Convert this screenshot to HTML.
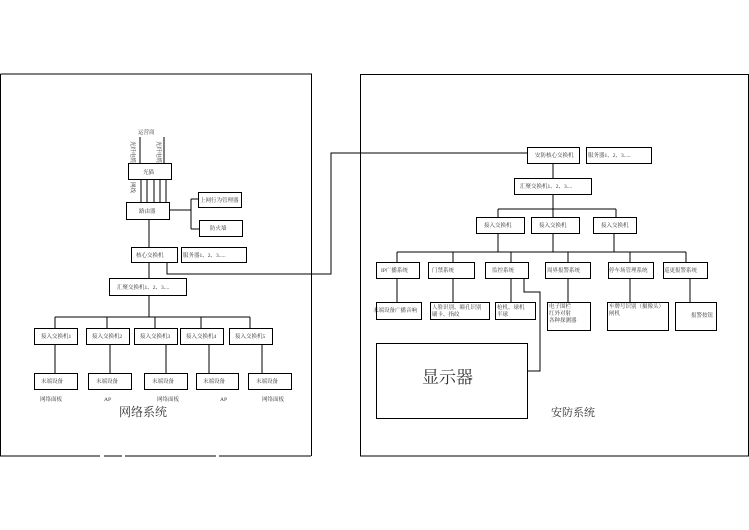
<!DOCTYPE html>
<html><head><meta charset="utf-8"><style>
html,body{margin:0;padding:0;background:#fff;}
svg{display:block;}
text{font-family:"Liberation Serif","Noto Serif CJK SC",serif;fill:#333;}
</style></head><body>
<svg width="749" height="530" viewBox="0 0 749 530" xmlns="http://www.w3.org/2000/svg">
<g fill="none" stroke="#000" stroke-width="1">
<!-- outer frames -->
<path d="M0.5 74 H311.5 V456"/>
<path d="M0.5 74 V456 H100 M104 456 H122 M125 456 H216 M219 456 H311"/>
<rect x="360.5" y="74.5" width="388" height="381.5"/>
<!-- left tree -->
<path d="M140 137 V163 M164 137 V163"/>
<rect x="128.5" y="163.5" width="43" height="16"/>
<path d="M141 179 V203 M147 179 V203 M154 179 V203 M160 179 V203 M166 179 V203"/>
<rect x="126.5" y="202.5" width="43" height="17"/>
<path d="M169 210 H191 M191 199 V229 M191 199 H198 M191 229 H199"/>
<rect x="198.5" y="192.5" width="43" height="15"/>
<rect x="199.5" y="220.5" width="43" height="16"/>
<path d="M149 219 V247"/>
<rect x="131.5" y="247.5" width="46" height="15"/>
<rect x="181.5" y="247.5" width="65" height="15"/>
<path d="M167 262 V274 H331 V153 H527"/>
<path d="M149 262 V278"/>
<rect x="109.5" y="278.5" width="77" height="17"/>
<path d="M149 295 V317 M55 317 H250 M55 317 V328 M107 317 V328 M155 317 V328 M201 317 V328 M250 317 V328"/>
<rect x="34.5" y="328.5" width="43" height="16"/>
<rect x="86.5" y="328.5" width="43" height="16"/>
<rect x="134.5" y="328.5" width="43" height="16"/>
<rect x="180.5" y="328.5" width="43" height="16"/>
<rect x="229.5" y="328.5" width="43" height="16"/>
<path d="M55 344 V373 M110 344 V373 M166 344 V373 M209 344 V373 M262 344 V373"/>
<rect x="34.5" y="373.5" width="43" height="16"/>
<rect x="88.5" y="373.5" width="43" height="16"/>
<rect x="144.5" y="373.5" width="43" height="16"/>
<rect x="196.5" y="373.5" width="42" height="16"/>
<rect x="248.5" y="373.5" width="43" height="16"/>
<!-- right tree -->
<rect x="527.5" y="147.5" width="52" height="16"/>
<rect x="586.5" y="147.5" width="65" height="16"/>
<path d="M553 163 V178"/>
<rect x="514.5" y="178.5" width="77" height="16"/>
<path d="M553 194 V209 M498 209 H616 M498 209 V217 M553 209 V217 M616 209 V217"/>
<rect x="476.5" y="217.5" width="48" height="16"/>
<rect x="531.5" y="217.5" width="48" height="16"/>
<rect x="593.5" y="217.5" width="43" height="16"/>
<path d="M498 233 V252 M553 233 V252 M614 233 V252 M397 252 H686 M397 252 V262 M453 252 V262 M511 252 V262 M568 252 V262 M630 252 V262 M686 252 V262"/>
<rect x="376.5" y="262.5" width="43" height="16"/>
<rect x="428.5" y="262.5" width="46" height="16"/>
<rect x="485.5" y="262.5" width="43" height="16"/>
<rect x="545.5" y="262.5" width="45" height="16"/>
<rect x="608.5" y="262.5" width="45" height="16"/>
<rect x="663.5" y="262.5" width="44" height="16"/>
<path d="M397 278 V302 M453 278 V302 M511 278 V302 M568 278 V302 M630 278 V302 M690 278 V302"/>
<path d="M524 278 V292 H540 V371 H527"/>
<rect x="376.5" y="302.5" width="45" height="17"/>
<rect x="430.5" y="302.5" width="59" height="17"/>
<rect x="495.5" y="302.5" width="40" height="17"/>
<rect x="547.5" y="302.5" width="43" height="28"/>
<rect x="607.5" y="302.5" width="61" height="28"/>
<rect x="675.5" y="302.5" width="41" height="28"/>
<rect x="376.5" y="343.5" width="151" height="75"/>
</g>
<g font-size="5.5">
<text x="138" y="134">运营商</text>
<text x="131" y="141" transform="rotate(90 131 141)">光纤电缆</text>
<text x="157" y="141" transform="rotate(90 157 141)">光纤电缆</text>
<text x="131" y="182" transform="rotate(90 131 182)">网线</text>
<text x="143" y="174">光猫</text>
<text x="139" y="213">路由器</text>
<text x="200" y="202">上网行为管理器</text>
<text x="210" y="230">防火墙</text>
<text x="136" y="257">核心交换机</text>
<text x="183" y="257">服务器1、2、3.....</text>
<text x="117" y="289">汇聚交换机1、2、3....</text>
<text x="41" y="338">接入交换机1</text>
<text x="92" y="338">接入交换机2</text>
<text x="140" y="338">接入交换机3</text>
<text x="186" y="338">接入交换机4</text>
<text x="235" y="338">接入交换机5</text>
<text x="41" y="383">末端设备</text>
<text x="96" y="383">末端设备</text>
<text x="152" y="383">末端设备</text>
<text x="203" y="383">末端设备</text>
<text x="256" y="383">末端设备</text>
<text x="40" y="401">网络面板</text>
<text x="104" y="401">AP</text>
<text x="157" y="401">网络面板</text>
<text x="220" y="401">AP</text>
<text x="262" y="401">网络面板</text>
<text x="535" y="157">安防核心交换机</text>
<text x="588" y="157">服务器1、2、3.....</text>
<text x="520" y="188">汇聚交换机1、2、3....</text>
<text x="484" y="227">接入交换机</text>
<text x="539" y="227">接入交换机</text>
<text x="601" y="227">接入交换机</text>
<text x="381" y="272">IP广播系统</text>
<text x="432" y="272">门禁系统</text>
<text x="492" y="272">监控系统</text>
<text x="547" y="272">周界报警系统</text>
<text x="609" y="272">停车场管理系统</text>
<text x="664" y="272">巡更报警系统</text>
<text x="373" y="312">末端设备广播音响</text>
<text x="432" y="309">人脸识别、瞳孔识别</text>
<text x="432" y="316">刷卡、指纹</text>
<text x="497" y="309">枪机、球机</text>
<text x="497" y="316">半球</text>
<text x="549" y="308">电子围栏</text>
<text x="549" y="315">红外对射</text>
<text x="549" y="322">各种探测器</text>
<text x="609" y="308">车牌号识别（摄像头）</text>
<text x="609" y="315">闸机</text>
<text x="691" y="317">报警按钮</text>
</g>
<text x="119" y="416" font-size="12">网络系统</text>
<text x="551" y="416" font-size="11">安防系统</text>
<text x="422" y="383" font-size="17">显示器</text>
</svg>
</body></html>
